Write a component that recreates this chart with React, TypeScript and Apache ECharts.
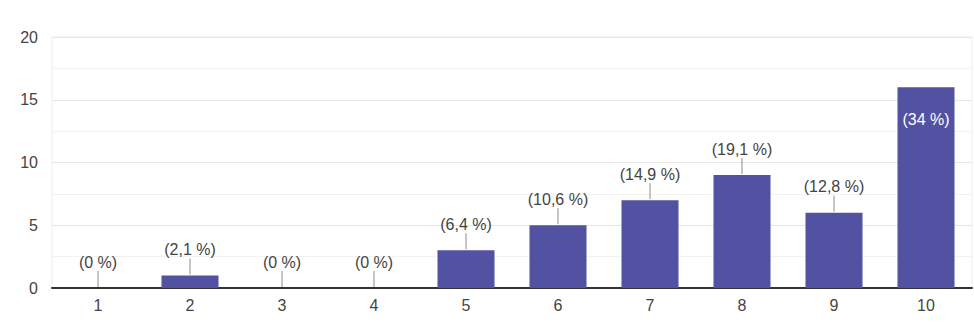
import React, { useEffect, useRef } from "react";
import * as echarts from "echarts";

const categories = ["1", "2", "3", "4", "5", "6", "7", "8", "9", "10"];
const counts = [0, 1, 0, 0, 3, 5, 7, 9, 6, 16];
const percentLabels = ["(0 %)", "(2,1 %)", "(0 %)", "(0 %)", "(6,4 %)", "(10,6 %)", "(14,9 %)", "(19,1 %)", "(12,8 %)", "(34 %)"];
const yTicks = { min: 0, max: 20, interval: 5 };
const insideLabelIndex = 9;

export default function App() {
  const ref = useRef<HTMLDivElement>(null);
  useEffect(() => {
    if (!ref.current) return;
    const chart = echarts.init(ref.current, undefined, { renderer: "svg" });
    const font = "'Liberation Sans', Arial, sans-serif";
    const barData = counts.map((v, i) => {
      if (i === insideLabelIndex) {
        return {
          value: v,
          label: {
            show: true,
            position: "insideTop",
            distance: 24,
            color: "#ffffff",
            fontSize: 16,
            fontFamily: font,
            formatter: percentLabels[i],
          },
        };
      }
      return {
        value: v,
        label: {
          show: true,
          position: "top",
          distance: 18,
          color: "#444444",
          fontSize: 16,
          fontFamily: font,
          formatter: percentLabels[i],
        },
      };
    });
    chart.setOption({
      animation: false,
      grid: {
        left: 52,
        right: 2,
        top: 37,
        bottom: 39,
        show: true,
        borderColor: "#ececec",
        borderWidth: 1,
      },
      xAxis: {
        type: "category",
        data: categories,
        axisLine: { show: true, lineStyle: { color: "#333333", width: 2 } },
        axisTick: { show: false },
        axisLabel: { color: "#444444", fontSize: 16, fontFamily: font, margin: 9 },
        splitLine: { show: false },
      },
      yAxis: {
        type: "value",
        min: yTicks.min,
        max: yTicks.max,
        interval: yTicks.interval,
        axisLine: { show: false },
        axisTick: { show: false },
        axisLabel: { color: "#444444", fontSize: 16, fontFamily: font, margin: 14 },
        splitLine: { show: true, lineStyle: { color: "#e6e6e6", width: 1 } },
        minorTick: { show: false, splitNumber: 2 },
        minorSplitLine: { show: true, lineStyle: { color: "#f2f2f2", width: 1 } },
      },
      series: [
        {
          type: "bar",
          data: barData,
          barWidth: 57,
          itemStyle: { color: "#5351a1" },
          z: 2,
        },
        {
          type: "custom",
          data: counts.map((v, i) => [i, v]),
          z: 3,
          silent: true,
          renderItem: (params: any, api: any) => {
            const idx = params.dataIndex;
            if (idx === insideLabelIndex) return null;
            const p = api.coord([api.value(0), api.value(1)]);
            return {
              type: "line",
              shape: { x1: p[0], y1: p[1] - 1, x2: p[0], y2: p[1] - 17 },
              style: { stroke: "#8a8a8a", lineWidth: 1 },
            };
          },
        },
      ],
    });
    return () => chart.dispose();
  }, []);
  return (
    <div
      ref={ref}
      style={{ position: "fixed", left: 0, top: 0, width: 974, height: 327, background: "#ffffff" }}
    />
  );
}
